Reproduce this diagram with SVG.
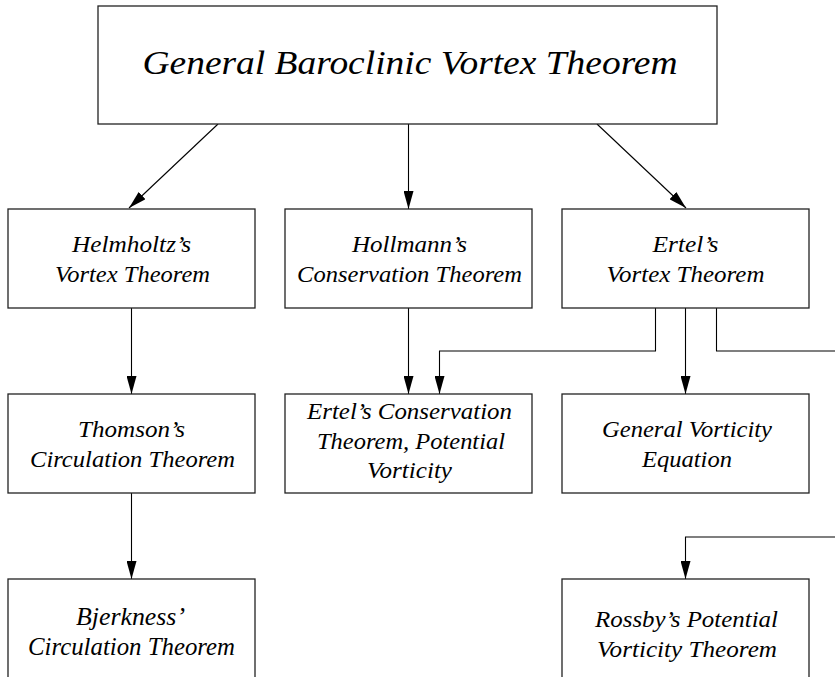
<svg xmlns="http://www.w3.org/2000/svg" width="835" height="677" viewBox="0 0 835 677">
<style>
.box{fill:#fff;stroke:#222;stroke-width:1.3}
text{font-family:'Liberation Serif','Times New Roman',serif;font-style:italic;font-size:23px;fill:#000;text-anchor:middle}
.tb{font-size:25px}
.tr{font-size:24px}
.title{font-size:34px}
.c{fill:none;stroke:#000;stroke-width:1.1}
</style>
<defs>
<marker id="ah" markerUnits="userSpaceOnUse" markerWidth="18" markerHeight="10" refX="18" refY="5" orient="auto">
<path d="M0,0 L18,5 L0,10 z" fill="#000"/>
</marker>
</defs>
<rect width="835" height="677" fill="#fff"/>
<g id="connectors">
<line class="c" x1="218" y1="124" x2="129" y2="208" marker-end="url(#ah)"/>
<line class="c" x1="408.5" y1="124" x2="408.5" y2="209" marker-end="url(#ah)"/>
<line class="c" x1="597" y1="124" x2="686" y2="208" marker-end="url(#ah)"/>
<line class="c" x1="131.5" y1="308" x2="131.5" y2="394" marker-end="url(#ah)"/>
<line class="c" x1="408.5" y1="308" x2="408.5" y2="394" marker-end="url(#ah)"/>
<polyline class="c" points="655.5,308 655.5,351 439.5,351 439.5,394" marker-end="url(#ah)"/>
<line class="c" x1="685.5" y1="308" x2="685.5" y2="394" marker-end="url(#ah)"/>
<polyline class="c" points="716.5,308 716.5,351 836,351"/>
<line class="c" x1="131.5" y1="493" x2="131.5" y2="579" marker-end="url(#ah)"/>
<polyline class="c" points="836,537 685.5,537 685.5,579" marker-end="url(#ah)"/>
</g>
<g id="general">
<rect class="box" x="98" y="6" width="619" height="118"/>
<text class="title" x="410" y="74" textLength="535" lengthAdjust="spacingAndGlyphs">General Baroclinic Vortex Theorem</text>
</g>
<g id="helmholtz">
<rect class="box" x="8" y="209" width="247" height="99"/>
<text x="131.5" y="252" textLength="119" lengthAdjust="spacingAndGlyphs">Helmholtz’s</text>
<text x="132.5" y="282" textLength="155" lengthAdjust="spacingAndGlyphs">Vortex Theorem</text>
</g>
<g id="hollmann">
<rect class="box" x="285" y="209" width="247" height="99"/>
<text x="409.5" y="252" textLength="115" lengthAdjust="spacingAndGlyphs">Hollmann’s</text>
<text x="409.5" y="282" textLength="225" lengthAdjust="spacingAndGlyphs">Conservation Theorem</text>
</g>
<g id="ertel-vortex">
<rect class="box" x="562" y="209" width="247" height="99"/>
<text x="685.5" y="252" textLength="66" lengthAdjust="spacingAndGlyphs">Ertel’s</text>
<text x="685.5" y="282" textLength="158" lengthAdjust="spacingAndGlyphs">Vortex Theorem</text>
</g>
<g id="thomson">
<rect class="box" x="8" y="394" width="247" height="99"/>
<text x="131.5" y="437" textLength="107" lengthAdjust="spacingAndGlyphs">Thomson’s</text>
<text x="132.5" y="467" textLength="205" lengthAdjust="spacingAndGlyphs">Circulation Theorem</text>
</g>
<g id="ertel-conservation">
<rect class="box" x="285" y="394" width="247" height="99"/>
<text x="409.5" y="419" textLength="205" lengthAdjust="spacingAndGlyphs">Ertel’s Conservation</text>
<text x="411" y="449" textLength="188" lengthAdjust="spacingAndGlyphs">Theorem, Potential</text>
<text x="409.5" y="478" textLength="85" lengthAdjust="spacingAndGlyphs">Vorticity</text>
</g>
<g id="general-vorticity">
<rect class="box" x="562" y="394" width="247" height="99"/>
<text x="687" y="437" textLength="170" lengthAdjust="spacingAndGlyphs">General Vorticity</text>
<text x="687" y="467" textLength="90" lengthAdjust="spacingAndGlyphs">Equation</text>
</g>
<g id="bjerkness">
<rect class="box" x="8" y="579" width="247" height="120"/>
<text class="tb" x="130.5" y="625" textLength="109" lengthAdjust="spacingAndGlyphs">Bjerkness’</text>
<text class="tb" x="131.5" y="655" textLength="207" lengthAdjust="spacingAndGlyphs">Circulation Theorem</text>
</g>
<g id="rossby">
<rect class="box" x="562" y="579" width="247" height="120"/>
<text class="tr" x="686.5" y="627" textLength="183" lengthAdjust="spacingAndGlyphs">Rossby’s Potential</text>
<text class="tr" x="687" y="657" textLength="180" lengthAdjust="spacingAndGlyphs">Vorticity Theorem</text>
</g>
</svg>
